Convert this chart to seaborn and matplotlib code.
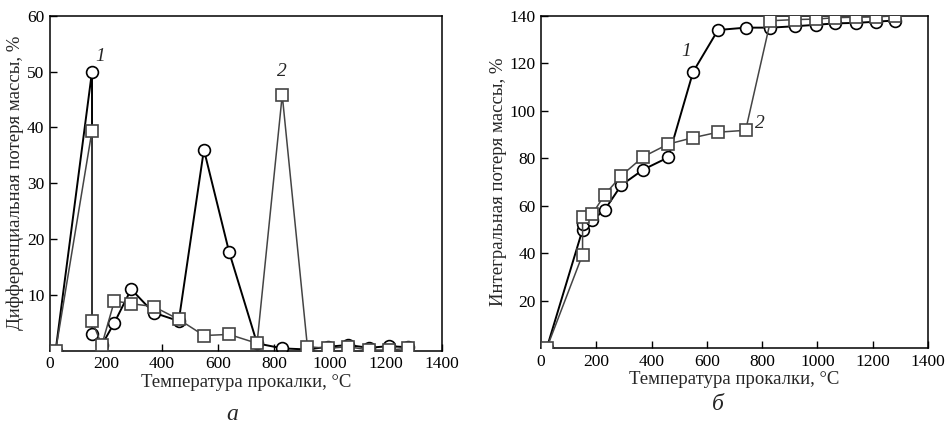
import matplotlib
matplotlib.use("Agg")
import matplotlib.pyplot as plt
import seaborn as sns
import pandas as pd

# Temperature points (°C)
temp = [20, 150, 150, 185, 230, 290, 370, 460, 550, 640, 740, 830, 920, 995, 1065, 1140, 1210, 1280]

# Differential mass loss, %
diff_1 = [0, 50, 3.0, 1.0, 5.0, 11.0, 6.8, 5.3, 36.0, 17.7, 1.3, 0.4, 0.2, 0.7, 1.0, 0.5, 0.8, 0.6]
diff_2 = [0, 39.4, 5.3, 1.0, 8.9, 8.4, 7.9, 5.6, 2.7, 2.9, 1.3, 45.8, 0.7, 0.4, 0.7, 0.1, 0.1, 0.4]

# Integral mass loss, %
int_1 = [0, 50.0, 52.5, 54.0, 58.3, 68.7, 75.3, 80.4, 116.4, 134.0, 135.0, 135.0, 135.6, 136.2, 136.8, 137.0, 137.5, 138.0]
int_2 = [0, 39.5, 55.4, 56.5, 64.7, 72.7, 80.7, 86.0, 88.7, 91.0, 91.8, 137.9, 138.4, 138.6, 139.2, 139.4, 139.5, 140.0]

sns.set_style("ticks")
plt.rcParams["font.family"] = ["Liberation Serif", "DejaVu Serif"]

fig = plt.figure(figsize=(9.46, 4.26), dpi=100)
ax1 = fig.add_axes([0.0529, 0.177, 0.414, 0.786])
ax2 = fig.add_axes([0.572, 0.182, 0.409, 0.781])

style1 = dict(color="black", lw=1.4, marker="o", markersize=8.5,
              markerfacecolor="white", markeredgecolor="black", markeredgewidth=1.2)
style2 = dict(color="#444444", lw=1.1, marker="s", markersize=8.5,
              markerfacecolor="white", markeredgecolor="#444444", markeredgewidth=1.2)

def draw(ax, y1, y2):
    df1 = pd.DataFrame({"t": temp, "v": y1})
    df2 = pd.DataFrame({"t": temp, "v": y2})
    sns.lineplot(data=df1, x="t", y="v", sort=False, estimator=None, ax=ax, zorder=2, **style1)
    sns.lineplot(data=df2, x="t", y="v", sort=False, estimator=None, ax=ax, zorder=3, **style2)
    ax.set_xlim(0, 1400)
    ax.set_xticks(range(0, 1401, 200))
    ax.tick_params(direction="in", labelsize=12.5, width=1, length=5, colors="black", pad=4)
    for s in ax.spines.values():
        s.set_linewidth(1.1)
        s.set_color("black")
    ax.set_xlabel("Температура прокалки, °C", fontsize=13.5, labelpad=1)

draw(ax1, diff_1, diff_2)
ax1.set_ylim(0, 60)
ax1.set_yticks([10, 20, 30, 40, 50, 60])
ax1.set_ylabel("Дифференциальная потеря массы, %", fontsize=13.5, labelpad=2)
ax1.text(179, 52.7, "1", fontsize=14, style="italic", ha="center", va="center")
ax1.text(828, 50, "2", fontsize=14, style="italic", ha="center", va="center")
fig.text(0.246, 0.026, "а", fontsize=17, style="italic", ha="center", va="center")

draw(ax2, int_1, int_2)
ax2.set_ylim(0, 140)
ax2.set_yticks([20, 40, 60, 80, 100, 120, 140])
ax2.set_ylabel("Интегральная потеря массы, %", fontsize=13.5, labelpad=2)
ax2.text(525, 125, "1", fontsize=14, style="italic", ha="center", va="center")
ax2.text(790, 94.7, "2", fontsize=14, style="italic", ha="center", va="center")
fig.text(0.759, 0.05, "б", fontsize=17, style="italic", ha="center", va="center")

fig.savefig("out.png", dpi=100)
